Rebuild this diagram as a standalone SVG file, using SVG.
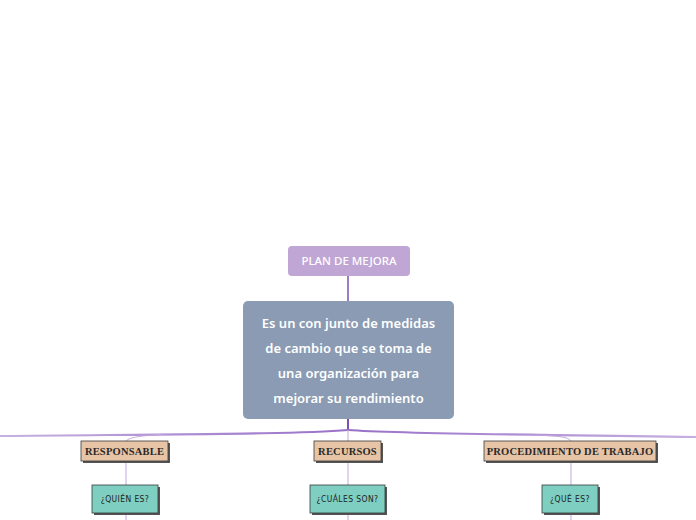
<svg xmlns="http://www.w3.org/2000/svg" width="696" height="520" viewBox="0 0 696 520">
<defs>
<style>
.title{font-family:"Noto Sans","Open Sans",sans-serif;font-size:11.5px;font-weight:500;fill:#ffffff;text-anchor:middle}
.main{font-family:"Noto Sans","Open Sans",sans-serif;font-size:13px;font-weight:600;fill:#ffffff;text-anchor:middle}
.cat{font-family:"Liberation Serif",serif;font-size:10.5px;font-weight:bold;fill:#2a2a2a;text-anchor:middle;letter-spacing:0.2px}
.q{font-family:"DejaVu Sans Condensed","Liberation Sans",sans-serif;font-size:8.5px;fill:#222;text-anchor:middle;letter-spacing:0.4px}
.catbox{fill:#e8c4a6;stroke:#3a3a3a;stroke-width:0.8}
.qbox{fill:#7ecfc1;stroke:#3a3a3a;stroke-width:0.8}
.shadow{fill:#555}
.thin{fill:none;stroke:#c4a8dc;stroke-width:1}
.branch{fill:none;stroke-linecap:round}
</style>
<linearGradient id="gl" x1="348" y1="0" x2="0" y2="0" gradientUnits="userSpaceOnUse">
<stop offset="0" stop-color="#9870c8"/><stop offset="1" stop-color="#c6b0e0"/>
</linearGradient>
<linearGradient id="gr" x1="348" y1="0" x2="696" y2="0" gradientUnits="userSpaceOnUse">
<stop offset="0" stop-color="#9870c8"/><stop offset="1" stop-color="#c6b0e0"/>
</linearGradient>
</defs>
<g id="connectors">
<line x1="348" y1="276" x2="348" y2="301" stroke="#7d4fb5" stroke-width="1.5"/>
<line x1="348" y1="419" x2="348" y2="430" stroke="#7d4fb5" stroke-width="2"/>
<path class="branch" d="M348,430 C300,434 200,434 0,436" stroke="url(#gl)" stroke-width="2.2"/>
<path class="branch" d="M348,430 C400,434 500,434 696,437" stroke="url(#gr)" stroke-width="2.2"/>
<path class="thin" d="M348,430 L348,441"/>
<path class="thin" d="M165,434 C140,436 130,437 126,441"/>
<path class="thin" d="M535,435 C560,436 568,437 571,441"/>
<line class="thin" x1="126" y1="461" x2="126" y2="485"/>
<line class="thin" x1="126" y1="513" x2="126" y2="520"/>
<line class="thin" x1="348" y1="461" x2="348" y2="485"/>
<line class="thin" x1="348" y1="513" x2="348" y2="520"/>
<line class="thin" x1="571" y1="461" x2="571" y2="485"/>
<line class="thin" x1="571" y1="513" x2="571" y2="520"/>
</g>
<g id="plan">
<rect x="288" y="246" width="122" height="30" rx="4" fill="#c0a6d4"/>
<text class="title" x="349" y="265">PLAN DE MEJORA</text>
</g>
<g id="definicion">
<rect x="243" y="301" width="211" height="118" rx="5" fill="#8a9bb3"/>
<text class="main" x="348.5" y="327.5">Es un con junto de medidas</text>
<text class="main" x="348.5" y="352.5">de cambio que se toma de</text>
<text class="main" x="348.5" y="377.5">una organización para</text>
<text class="main" x="348.5" y="402.5">mejorar su rendimiento</text>
</g>
<g id="responsable">
<rect class="shadow" x="83" y="443" width="87" height="20"/>
<rect class="catbox" x="81" y="441" width="87" height="20"/>
<text class="cat" x="124.5" y="454.5">RESPONSABLE</text>
</g>
<g id="recursos">
<rect class="shadow" x="316" y="443" width="67" height="20"/>
<rect class="catbox" x="314" y="441" width="67" height="20"/>
<text class="cat" x="347.5" y="454.5">RECURSOS</text>
</g>
<g id="procedimiento">
<rect class="shadow" x="486" y="443" width="172" height="20"/>
<rect class="catbox" x="484" y="441" width="172" height="20"/>
<text class="cat" x="570" y="454.5">PROCEDIMIENTO DE TRABAJO</text>
</g>
<g id="quien">
<rect class="shadow" x="94" y="487" width="66" height="28"/>
<rect class="qbox" x="92" y="485" width="66" height="28"/>
<text class="q" x="125" y="502">¿QUIÉN ES?</text>
</g>
<g id="cuales">
<rect class="shadow" x="312" y="487" width="75" height="28"/>
<rect class="qbox" x="310" y="485" width="75" height="28"/>
<text class="q" x="347.5" y="502">¿CUÁLES SON?</text>
</g>
<g id="que">
<rect class="shadow" x="544" y="487" width="56" height="28"/>
<rect class="qbox" x="542" y="485" width="56" height="28"/>
<text class="q" x="570" y="502">¿QUÉ ES?</text>
</g>
</svg>
